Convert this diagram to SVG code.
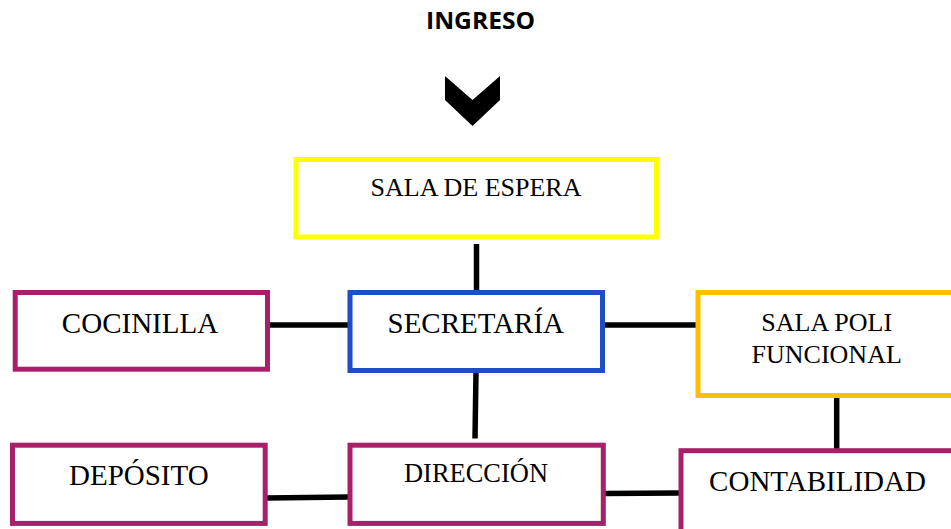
<svg xmlns="http://www.w3.org/2000/svg" width="951" height="529" viewBox="0 0 951 529">
<style>
.box{fill:#ffffff;stroke-width:5;}
.t{font-family:"Liberation Serif","Times New Roman",serif;fill:#000;text-anchor:middle;}
.c{stroke:#000;stroke-width:5.5;fill:none;}
</style>
<rect width="951" height="529" fill="#ffffff"/>
<g id="ingreso">
<text x="480.5" y="29.3" font-family="Open Sans, Liberation Sans, sans-serif" font-weight="bold" font-size="22.5" text-anchor="middle" textLength="109" lengthAdjust="spacingAndGlyphs">INGRESO</text>
<polygon points="445,76 472.5,100 500,76 500,100 472.5,126 445,100" fill="#000"/>
</g>
<g id="connectors">
<line class="c" x1="476.5" y1="244" x2="476.5" y2="291"/>
<line class="c" x1="476" y1="372" x2="475" y2="438.5"/>
<line class="c" x1="263" y1="325" x2="349" y2="325"/>
<line class="c" x1="603" y1="325" x2="697" y2="325"/>
<line class="c" x1="266" y1="498" x2="349" y2="497"/>
<line class="c" x1="604" y1="493.5" x2="680" y2="493"/>
<line class="c" x1="836.7" y1="388" x2="836.7" y2="452"/>
</g>
<g id="sala-espera">
<rect class="box" x="296" y="159.5" width="360.5" height="77.5" stroke="#FFFF00"/>
<text class="t" x="476" y="196" font-size="26">SALA DE ESPERA</text>
</g>
<g id="cocinilla">
<rect class="box" x="15.2" y="292.5" width="252.3" height="76.7" stroke="#A8206A"/>
<text class="t" x="140" y="333.3" font-size="29">COCINILLA</text>
</g>
<g id="secretaria">
<rect class="box" x="350" y="292.5" width="252.5" height="78" stroke="#1F4DC8"/>
<text class="t" x="475.8" y="333.3" font-size="29">SECRETARÍA</text>
</g>
<g id="sala-poli">
<rect class="box" x="698" y="292.5" width="262" height="103" stroke="#FFC000"/>
<text class="t" x="826.7" y="330.7" font-size="26">SALA POLI</text>
<text class="t" x="826.7" y="362.7" font-size="26">FUNCIONAL</text>
</g>
<g id="deposito">
<rect class="box" x="12.5" y="445.2" width="252.7" height="78.2" stroke="#A8206A"/>
<text class="t" x="138.8" y="485" font-size="29">DEPÓSITO</text>
</g>
<g id="direccion">
<rect class="box" x="350" y="445.2" width="253.3" height="78.2" stroke="#A8206A"/>
<text class="t" x="476" y="482.3" font-size="27" textLength="144" lengthAdjust="spacingAndGlyphs">DIRECCIÓN</text>
</g>
<g id="contabilidad">
<rect class="box" x="681" y="450.7" width="290" height="100" stroke="#A8206A"/>
<text class="t" x="817.5" y="490.7" font-size="29">CONTABILIDAD</text>
</g>
</svg>
